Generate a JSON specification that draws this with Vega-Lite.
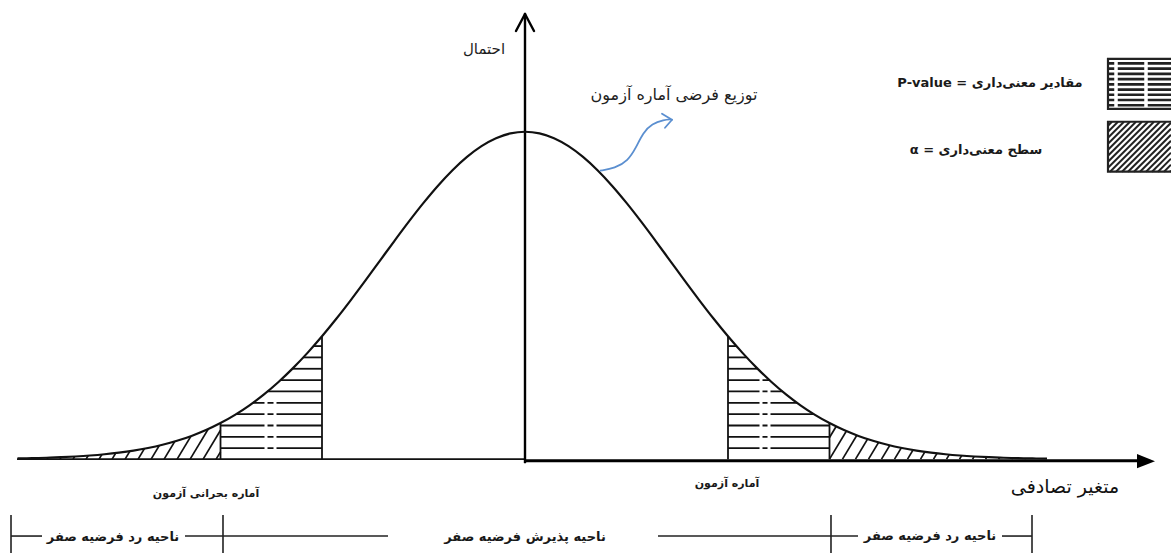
{
 "$schema": "https://vega.github.io/schema/vega-lite/v6.json",
 "width": 1171, "height": 554, "padding": 0,
 "autosize": {"type": "fit", "contains": "padding"},
 "background": "white",
 "config": {"view": {"stroke": null}},
 "datasets": {
  "curve": [{"x":-3.5,"y":0.00219},{"x":-3.4,"y":0.00309},{"x":-3.3,"y":0.00432},{"x":-3.2,"y":0.00598},{"x":-3.1,"y":0.00819},{"x":-3.0,"y":0.01111},{"x":-2.9,"y":0.01492},{"x":-2.8,"y":0.01984},{"x":-2.7,"y":0.02612},{"x":-2.6,"y":0.03405},{"x":-2.5,"y":0.04394},{"x":-2.4,"y":0.05613},{"x":-2.3,"y":0.07101},{"x":-2.2,"y":0.08892},{"x":-2.1,"y":0.11025},{"x":-2.0,"y":0.13534},{"x":-1.9,"y":0.16447},{"x":-1.8,"y":0.1979},{"x":-1.7,"y":0.23575},{"x":-1.6,"y":0.27804},{"x":-1.5,"y":0.32465},{"x":-1.4,"y":0.37531},{"x":-1.3,"y":0.42956},{"x":-1.2,"y":0.48675},{"x":-1.1,"y":0.54607},{"x":-1.0,"y":0.60653},{"x":-0.9,"y":0.66698},{"x":-0.8,"y":0.72615},{"x":-0.7,"y":0.7827},{"x":-0.6,"y":0.83527},{"x":-0.5,"y":0.8825},{"x":-0.4,"y":0.92312},{"x":-0.3,"y":0.956},{"x":-0.2,"y":0.9802},{"x":-0.1,"y":0.99501},{"x":0,"y":1},{"x":0.1,"y":0.99501},{"x":0.2,"y":0.9802},{"x":0.3,"y":0.956},{"x":0.4,"y":0.92312},{"x":0.5,"y":0.8825},{"x":0.6,"y":0.83527},{"x":0.7,"y":0.7827},{"x":0.8,"y":0.72615},{"x":0.9,"y":0.66698},{"x":1.0,"y":0.60653},{"x":1.1,"y":0.54607},{"x":1.2,"y":0.48675},{"x":1.3,"y":0.42956},{"x":1.4,"y":0.37531},{"x":1.5,"y":0.32465},{"x":1.6,"y":0.27804},{"x":1.7,"y":0.23575},{"x":1.8,"y":0.1979},{"x":1.9,"y":0.16447},{"x":2.0,"y":0.13534},{"x":2.1,"y":0.11025},{"x":2.2,"y":0.08892},{"x":2.3,"y":0.07101},{"x":2.4,"y":0.05613},{"x":2.5,"y":0.04394},{"x":2.6,"y":0.03405},{"x":2.7,"y":0.02612},{"x":2.8,"y":0.01984},{"x":2.9,"y":0.01492},{"x":3.0,"y":0.01111},{"x":3.1,"y":0.00819},{"x":3.2,"y":0.00598},{"x":3.3,"y":0.00432},{"x":3.4,"y":0.00309},{"x":3.5,"y":0.00219},{"x":3.6,"y":0.00153}],
  "mask": [{"side":"L","x":-3.62,"y":0.00143,"y2":0.135},{"side":"L","x":-3.5,"y":0.00219,"y2":0.135},{"side":"L","x":-3.4,"y":0.00309,"y2":0.135},{"side":"L","x":-3.3,"y":0.00432,"y2":0.135},{"side":"L","x":-3.2,"y":0.00598,"y2":0.135},{"side":"L","x":-3.1,"y":0.00819,"y2":0.135},{"side":"L","x":-3.0,"y":0.01111,"y2":0.135},{"side":"L","x":-2.9,"y":0.01492,"y2":0.135},{"side":"L","x":-2.8,"y":0.01984,"y2":0.135},{"side":"L","x":-2.7,"y":0.02612,"y2":0.135},{"side":"L","x":-2.6,"y":0.03405,"y2":0.135},{"side":"L","x":-2.5,"y":0.04394,"y2":0.135},{"side":"L","x":-2.4,"y":0.05613,"y2":0.135},{"side":"L","x":-2.3,"y":0.07101,"y2":0.135},{"side":"L","x":-2.2,"y":0.08892,"y2":0.135},{"side":"L","x":-2.1,"y":0.11025,"y2":0.135},
    {"side":"R","x":2.1,"y":0.11025,"y2":0.135},{"side":"R","x":2.2,"y":0.08892,"y2":0.135},{"side":"R","x":2.3,"y":0.07101,"y2":0.135},{"side":"R","x":2.4,"y":0.05613,"y2":0.135},{"side":"R","x":2.5,"y":0.04394,"y2":0.135},{"side":"R","x":2.6,"y":0.03405,"y2":0.135},{"side":"R","x":2.7,"y":0.02612,"y2":0.135},{"side":"R","x":2.8,"y":0.01984,"y2":0.135},{"side":"R","x":2.9,"y":0.01492,"y2":0.135},{"side":"R","x":3.0,"y":0.01111,"y2":0.135},{"side":"R","x":3.1,"y":0.00819,"y2":0.135},{"side":"R","x":3.2,"y":0.00598,"y2":0.135},{"side":"R","x":3.3,"y":0.00432,"y2":0.135},{"side":"R","x":3.4,"y":0.00309,"y2":0.135},{"side":"R","x":3.5,"y":0.00219,"y2":0.135},{"side":"R","x":3.6,"y":0.00153,"y2":0.135},{"side":"R","x":3.7,"y":0.00106,"y2":0.135},{"side":"R","x":3.8,"y":0.00073,"y2":0.135},{"side":"R","x":3.9,"y":0.0005,"y2":0.135},{"side":"R","x":4.0,"y":0.00034,"y2":0.135}],
  "hlines": [{"x":-2.1,"x2":-1.4,"y":0.0335},{"x":-2.1,"x2":-1.4,"y":0.0682},{"x":-2.1,"x2":-1.4,"y":0.1028},{"x":-1.99205,"x2":-1.4,"y":0.1375},{"x":-1.87601,"x2":-1.4,"y":0.1721},{"x":-1.7754,"x2":-1.4,"y":0.2068},{"x":-1.68576,"x2":-1.4,"y":0.2415},{"x":-1.60436,"x2":-1.4,"y":0.2761},{"x":-1.52879,"x2":-1.4,"y":0.3108},{"x":-1.45812,"x2":-1.4,"y":0.3454},
    {"x":1.4,"x2":2.1,"y":0.0335},{"x":1.4,"x2":2.1,"y":0.0682},{"x":1.4,"x2":2.1,"y":0.1028},{"x":1.4,"x2":1.99205,"y":0.1375},{"x":1.4,"x2":1.87601,"y":0.1721},{"x":1.4,"x2":1.7754,"y":0.2068},{"x":1.4,"x2":1.68576,"y":0.2415},{"x":1.4,"x2":1.60436,"y":0.2761},{"x":1.4,"x2":1.52879,"y":0.3108},{"x":1.4,"x2":1.45812,"y":0.3454}],
  "breaks": [{"x":-1.7862,"y":0.015,"y2":0.19},{"x":-1.7241,"y":0.015,"y2":0.19},{"x":1.6276,"y":0.015,"y2":0.255},{"x":1.6828,"y":0.015,"y2":0.236}],
  "dlines": [{"x":-3.4755,"y":0,"x2":-3.31,"y2":0.122},{"x":-3.3858,"y":0,"x2":-3.2203,"y2":0.122},{"x":-3.2961,"y":0,"x2":-3.1306,"y2":0.122},{"x":-3.2064,"y":0,"x2":-3.0409,"y2":0.122},{"x":-3.1167,"y":0,"x2":-2.9512,"y2":0.122},{"x":-3.027,"y":0,"x2":-2.8615,"y2":0.122},{"x":-2.9373,"y":0,"x2":-2.7718,"y2":0.122},{"x":-2.8476,"y":0,"x2":-2.6821,"y2":0.122},{"x":-2.7579,"y":0,"x2":-2.5924,"y2":0.122},{"x":-2.6682,"y":0,"x2":-2.5027,"y2":0.122},{"x":-2.5785,"y":0,"x2":-2.413,"y2":0.122},{"x":-2.4888,"y":0,"x2":-2.3233,"y2":0.122},{"x":-2.3991,"y":0,"x2":-2.2336,"y2":0.122},{"x":-2.3094,"y":0,"x2":-2.1439,"y2":0.122},{"x":-2.2197,"y":0,"x2":-2.1,"y2":0.0882},{"x":-2.13,"y":0,"x2":-2.1,"y2":0.0221},
    {"x":2.1,"y":0.0661,"x2":2.1758,"y2":0.122},{"x":2.1,"y":0,"x2":2.2655,"y2":0.122},{"x":2.1897,"y":0,"x2":2.3552,"y2":0.122},{"x":2.2794,"y":0,"x2":2.4449,"y2":0.122},{"x":2.3691,"y":0,"x2":2.5346,"y2":0.122},{"x":2.4588,"y":0,"x2":2.6243,"y2":0.122},{"x":2.5485,"y":0,"x2":2.714,"y2":0.122},{"x":2.6382,"y":0,"x2":2.8037,"y2":0.122},{"x":2.7279,"y":0,"x2":2.8934,"y2":0.122},{"x":2.8176,"y":0,"x2":2.9831,"y2":0.122},{"x":2.9073,"y":0,"x2":3.0728,"y2":0.122},{"x":2.997,"y":0,"x2":3.1625,"y2":0.122},{"x":3.0867,"y":0,"x2":3.2522,"y2":0.122},{"x":3.1764,"y":0,"x2":3.3419,"y2":0.122},{"x":3.2661,"y":0,"x2":3.4316,"y2":0.122},{"x":3.3558,"y":0,"x2":3.5213,"y2":0.122},{"x":3.4455,"y":0,"x2":3.611,"y2":0.122}],
  "vlines": [{"x":-1.4,"y":0,"y2":0.37531},{"x":1.4,"y":0,"y2":0.37531},{"x":-2.1,"y":0,"y2":0.11025},{"x":2.1,"y":0,"y2":0.11025}],
  "axes": [{"part":"thin","x":-3.5034,"x2":0,"y":0,"y2":0},{"part":"thick","x":0,"x2":4.2414,"y":-0.005,"y2":-0.005},{"part":"yaxis","x":0,"x2":0,"y":-0.0091,"y2":1.3598},{"part":"yaxis","x":-0.0621,"x2":0,"y":1.3079,"y2":1.3598},{"part":"yaxis","x":0.0621,"x2":0,"y":1.3079,"y2":1.3598}],
  "arrowX": [{"x":4.2828,"y":-0.0061}],
  "brackets": [{"x":-3.5448,"x2":-3.331,"y":-0.2348,"y2":-0.2348},{"x":-2.3448,"x2":-0.9448,"y":-0.2348,"y2":-0.2348},{"x":0.9172,"x2":2.2966,"y":-0.2348,"y2":-0.2348},{"x":3.2897,"x2":3.4966,"y":-0.2348,"y2":-0.2348},{"x":-3.5448,"x2":-3.5448,"y":-0.1707,"y2":-0.2866},{"x":-2.0828,"x2":-2.0828,"y":-0.1707,"y2":-0.2866},{"x":2.1103,"x2":2.1103,"y":-0.1707,"y2":-0.2866},{"x":3.4966,"x2":3.4966,"y":-0.1707,"y2":-0.2866}],
  "legendBoxes": [{"x":4.0207,"x2":4.48,"y":1.0701,"y2":1.2226},{"x":4.0207,"x2":4.48,"y":0.878,"y2":1.0305}],
  "legendH": [{"x":4.0207,"x2":4.4552,"y":1.2088},{"x":4.0207,"x2":4.4552,"y":1.1928},{"x":4.0207,"x2":4.4552,"y":1.1768},{"x":4.0207,"x2":4.4552,"y":1.1608},{"x":4.0207,"x2":4.4552,"y":1.1448},{"x":4.0207,"x2":4.4552,"y":1.1288},{"x":4.0207,"x2":4.4552,"y":1.1128},{"x":4.0207,"x2":4.4552,"y":1.0968},{"x":4.0207,"x2":4.4552,"y":1.0808}],
  "legendV": [{"x":4.0759,"y":1.0732,"y2":1.2195},{"x":4.2828,"y":1.0732,"y2":1.2195}],
  "legendD": [{"x":4.0207,"y":1.0183,"x2":4.0483,"y2":1.0305},{"x":4.0207,"y":1.0,"x2":4.0897,"y2":1.0305},{"x":4.0207,"y":0.9817,"x2":4.131,"y2":1.0305},{"x":4.0207,"y":0.9634,"x2":4.1724,"y2":1.0305},{"x":4.0207,"y":0.9451,"x2":4.2138,"y2":1.0305},{"x":4.0207,"y":0.9268,"x2":4.2552,"y2":1.0305},{"x":4.0207,"y":0.9085,"x2":4.2966,"y2":1.0305},{"x":4.0207,"y":0.8902,"x2":4.3379,"y2":1.0305},{"x":4.0345,"y":0.878,"x2":4.3793,"y2":1.0305},{"x":4.0759,"y":0.878,"x2":4.4207,"y2":1.0305},{"x":4.1172,"y":0.878,"x2":4.4552,"y2":1.0274},{"x":4.1586,"y":0.878,"x2":4.4552,"y2":1.0091},{"x":4.2,"y":0.878,"x2":4.4552,"y2":0.9909},{"x":4.2414,"y":0.878,"x2":4.4552,"y2":0.9726},{"x":4.2828,"y":0.878,"x2":4.4552,"y2":0.9543},{"x":4.3241,"y":0.878,"x2":4.4552,"y2":0.936},{"x":4.3655,"y":0.878,"x2":4.4552,"y2":0.9177},{"x":4.4069,"y":0.878,"x2":4.4552,"y2":0.8994},{"x":4.4483,"y":0.878,"x2":4.4552,"y2":0.8811}],
  "blue": [{"i":0,"x":0.5172,"y":0.8811},{"i":1,"x":0.6207,"y":0.8887},{"i":2,"x":0.7103,"y":0.9116},{"i":3,"x":0.7655,"y":0.9512},{"i":4,"x":0.8138,"y":0.997},{"i":5,"x":0.8759,"y":1.0244},{"i":6,"x":0.9586,"y":1.0366},{"i":7,"x":1.0069,"y":1.0381}],
  "blueHead": [{"x":0.9448,"y":1.0549,"x2":1.0138,"y2":1.0366},{"x":0.9655,"y":1.0122,"x2":1.0138,"y2":1.0366}],
  "labels": [{"x":-0.2828,"y":1.253,"text":"احتمال","role":"yaxis"},{"x":1.0276,"y":1.1128,"text":"توزیع فرضی آماره آزمون","role":"curve"},{"x":3.2069,"y":1.1494,"text":"P-value = مقادیر معنی\u200cداری","role":"legend"},{"x":3.1103,"y":0.9451,"text":"α = سطح معنی\u200cداری","role":"legend"},{"x":-2.2,"y":-0.1067,"text":"آماره بحرانی آزمون","role":"stat"},{"x":1.3931,"y":-0.0762,"text":"آماره آزمون","role":"stat"},{"x":3.7241,"y":-0.0854,"text":"متغیر تصادفی","role":"xaxis"},{"x":-2.8414,"y":-0.2378,"text":"ناحیه رد فرضیه صفر","role":"region"},{"x":0,"y":-0.2378,"text":"ناحیه پذیرش فرضیه صفر","role":"region"},{"x":2.7931,"y":-0.2348,"text":"ناحیه رد فرضیه صفر","role":"region"}]
 },
 "encoding": {
  "x": {"field": "x", "type": "quantitative", "scale": {"domain": [-3.6207, 4.4552], "nice": false, "zero": false}, "axis": null},
  "y": {"field": "y", "type": "quantitative", "scale": {"domain": [-0.2866, 1.4024], "nice": false, "zero": false}, "axis": null}
 },
 "layer": [
  {"data": {"name": "legendBoxes"}, "mark": {"type": "rect", "color": "white", "clip": true}, "encoding": {"x2": {"field": "x2"}, "y2": {"field": "y2"}}},
  {"data": {"name": "dlines"}, "mark": {"type": "rule", "color": "#111", "strokeWidth": 1.7}, "encoding": {"x2": {"field": "x2"}, "y2": {"field": "y2"}}},
  {"data": {"name": "hlines"}, "mark": {"type": "rule", "color": "#111", "strokeWidth": 1.8}, "encoding": {"x2": {"field": "x2"}}},
  {"data": {"name": "breaks"}, "mark": {"type": "rule", "color": "white", "strokeWidth": 3}, "encoding": {"y2": {"field": "y2"}}},
  {"data": {"name": "mask"}, "mark": {"type": "area", "color": "white", "opacity": 1, "interpolate": "monotone"}, "encoding": {"y2": {"field": "y2"}, "detail": {"field": "side"}}},
  {"data": {"name": "vlines"}, "mark": {"type": "rule", "color": "#111", "strokeWidth": 1.8}, "encoding": {"y2": {"field": "y2"}}},
  {"data": {"name": "axes"}, "transform": [{"filter": "datum.part === 'thin'"}], "mark": {"type": "rule", "color": "#111", "strokeWidth": 1.8}, "encoding": {"x2": {"field": "x2"}, "y2": {"field": "y2"}}},
  {"data": {"name": "axes"}, "transform": [{"filter": "datum.part === 'thick'"}], "mark": {"type": "rule", "color": "#000", "strokeWidth": 3}, "encoding": {"x2": {"field": "x2"}, "y2": {"field": "y2"}}},
  {"data": {"name": "axes"}, "transform": [{"filter": "datum.part === 'yaxis'"}], "mark": {"type": "rule", "color": "#000", "strokeWidth": 2.4, "strokeCap": "round"}, "encoding": {"x2": {"field": "x2"}, "y2": {"field": "y2"}}},
  {"data": {"name": "arrowX"}, "mark": {"type": "point", "shape": "M-1,-0.8L1,0L-1,0.8Z", "filled": true, "color": "#000", "opacity": 1, "size": 324}},
  {"data": {"name": "curve"}, "mark": {"type": "line", "color": "#111", "strokeWidth": 2.2, "interpolate": "monotone"}},
  {"data": {"name": "legendH"}, "mark": {"type": "rule", "color": "#222", "strokeWidth": 2.6, "clip": true}, "encoding": {"x2": {"field": "x2"}}},
  {"data": {"name": "legendV"}, "mark": {"type": "rule", "color": "white", "strokeWidth": 3.5}, "encoding": {"y2": {"field": "y2"}}},
  {"data": {"name": "legendD"}, "mark": {"type": "rule", "color": "#222", "strokeWidth": 2, "clip": true}, "encoding": {"x2": {"field": "x2"}, "y2": {"field": "y2"}}},
  {"data": {"name": "legendBoxes"}, "mark": {"type": "rect", "filled": false, "stroke": "#222", "strokeWidth": 2.2, "clip": true}, "encoding": {"x2": {"field": "x2"}, "y2": {"field": "y2"}}},
  {"data": {"name": "brackets"}, "mark": {"type": "rule", "color": "#222", "strokeWidth": 1.6}, "encoding": {"x2": {"field": "x2"}, "y2": {"field": "y2"}}},
  {"data": {"name": "blue"}, "mark": {"type": "line", "color": "#5b8fd0", "strokeWidth": 1.8, "interpolate": "basis"}, "encoding": {"order": {"field": "i", "type": "quantitative"}}},
  {"data": {"name": "blueHead"}, "mark": {"type": "rule", "color": "#5b8fd0", "strokeWidth": 1.8, "strokeCap": "round"}, "encoding": {"x2": {"field": "x2"}, "y2": {"field": "y2"}}},
  {"data": {"name": "labels"}, "transform": [{"filter": "datum.role === 'yaxis'"}], "mark": {"type": "text", "font": "DejaVu Sans", "fontSize": 15, "color": "#1e1e1e", "baseline": "middle", "align": "center"}, "encoding": {"text": {"field": "text"}}},
  {"data": {"name": "labels"}, "transform": [{"filter": "datum.role === 'curve'"}], "mark": {"type": "text", "font": "DejaVu Sans", "fontSize": 16, "color": "#1e1e1e", "baseline": "middle", "align": "center"}, "encoding": {"text": {"field": "text"}}},
  {"data": {"name": "labels"}, "transform": [{"filter": "datum.role === 'legend'"}], "mark": {"type": "text", "font": "DejaVu Sans", "fontSize": 13, "fontWeight": "bold", "color": "#1a1a1a", "baseline": "middle", "align": "center"}, "encoding": {"text": {"field": "text"}}},
  {"data": {"name": "labels"}, "transform": [{"filter": "datum.role === 'stat'"}], "mark": {"type": "text", "font": "DejaVu Sans", "fontSize": 11, "fontWeight": "bold", "color": "#1a1a1a", "baseline": "middle", "align": "center"}, "encoding": {"text": {"field": "text"}}},
  {"data": {"name": "labels"}, "transform": [{"filter": "datum.role === 'xaxis'"}], "mark": {"type": "text", "font": "DejaVu Sans", "fontSize": 19, "color": "#111", "baseline": "middle", "align": "center"}, "encoding": {"text": {"field": "text"}}},
  {"data": {"name": "labels"}, "transform": [{"filter": "datum.role === 'region'"}], "mark": {"type": "text", "font": "DejaVu Sans", "fontSize": 13, "fontWeight": "bold", "color": "#1a1a1a", "baseline": "middle", "align": "center"}, "encoding": {"text": {"field": "text"}}}
 ]
}
